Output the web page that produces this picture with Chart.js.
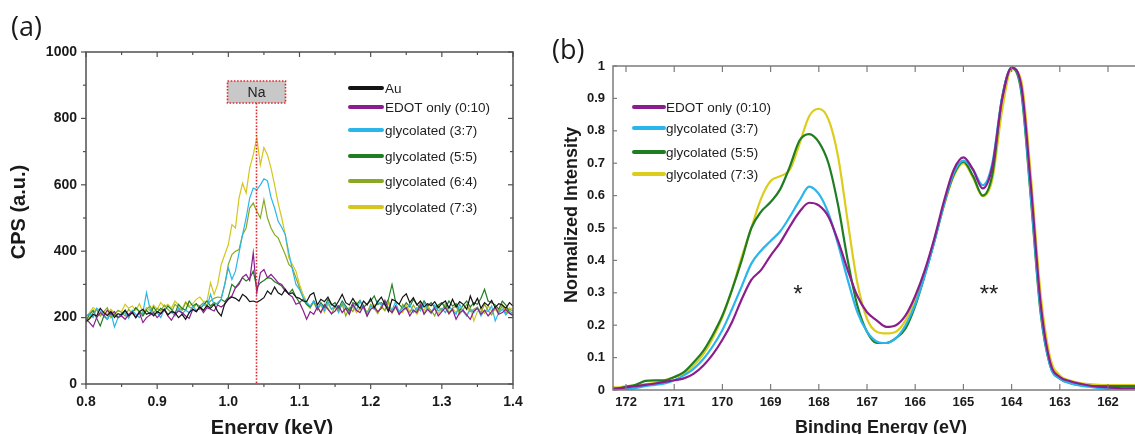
<!DOCTYPE html>
<html><head><meta charset="utf-8">
<script src="https://cdn.jsdelivr.net/npm/chart.js@4/dist/chart.umd.min.js"></script>
<style>
html,body{margin:0;padding:0;background:#fff;}
#wrap{position:relative;width:1135px;height:434px;overflow:hidden;background:#fff;}
#ca{position:absolute;left:0;top:0;}
#cb{position:absolute;left:540px;top:0;}
</style></head><body>
<div id="wrap"><canvas id="ca" width="560" height="434"></canvas><canvas id="cb" width="595" height="434"></canvas></div>
<script>
// ---------------- Panel (a) data ----------------
const energyKeV = [0.800,0.805,0.810,0.815,0.820,0.825,0.830,0.835,0.840,0.845,
0.850,0.855,0.860,0.865,0.870,0.875,0.880,0.885,0.890,0.895,
0.900,0.905,0.910,0.915,0.920,0.925,0.930,0.935,0.940,0.945,
0.950,0.955,0.960,0.965,0.970,0.975,0.980,0.985,0.990,0.995,
1.000,1.005,1.010,1.015,1.020,1.025,1.030,1.035,1.040,1.045,
1.050,1.055,1.060,1.065,1.070,1.075,1.080,1.085,1.090,1.095,
1.100,1.105,1.110,1.115,1.120,1.125,1.130,1.135,1.140,1.145,
1.150,1.155,1.160,1.165,1.170,1.175,1.180,1.185,1.190,1.195,
1.200,1.205,1.210,1.215,1.220,1.225,1.230,1.235,1.240,1.245,
1.250,1.255,1.260,1.265,1.270,1.275,1.280,1.285,1.290,1.295,
1.300,1.305,1.310,1.315,1.320,1.325,1.330,1.335,1.340,1.345,
1.350,1.355,1.360,1.365,1.370,1.375,1.380,1.385,1.390,1.395,
1.400];
const cpsAu = [188,196,210,205,228,215,206,218,200,212,
208,222,205,215,200,218,225,210,215,206,
218,212,225,208,218,215,200,210,195,215,
225,218,232,222,236,228,240,218,205,242,
255,262,258,250,270,262,248,250,246,252,
260,280,270,292,275,268,285,270,275,262,
258,250,248,268,275,238,255,248,262,240,
232,250,270,245,238,258,240,228,250,238,
258,230,248,262,240,218,255,250,240,262,
272,245,260,238,250,232,242,236,248,230,
242,250,228,255,232,248,240,225,265,238,
258,228,245,236,252,230,242,238,228,245,
235];
const cpsEdot = [195,185,172,200,215,205,222,210,218,200,
205,195,210,218,200,215,185,200,208,215,
200,212,225,205,192,210,220,215,205,198,
225,218,232,215,230,225,220,238,232,240,
258,265,290,300,322,330,312,395,275,335,
345,320,330,318,305,300,285,270,262,240,
245,222,195,218,210,232,215,238,225,212,
220,235,215,228,210,240,222,215,235,205,
225,232,218,228,252,225,215,235,210,222,
230,205,222,215,238,210,225,215,228,205,
218,230,212,225,195,215,222,208,195,220,
228,210,222,205,218,232,210,215,225,212,
208];
const cpsGly37 = [205,212,200,228,220,210,195,215,172,200,
208,215,198,222,210,200,215,275,225,205,
215,200,225,210,218,205,228,212,222,215,
235,222,228,240,232,270,238,245,255,300,
350,315,340,395,450,500,560,590,585,600,
618,612,562,530,490,472,450,395,345,300,
285,262,245,235,250,228,240,222,248,225,
238,215,245,230,212,240,222,250,228,205,
235,225,250,238,245,230,222,248,215,232,
225,240,215,230,220,245,225,212,238,220,
228,215,235,222,210,240,218,205,225,215,
230,205,222,218,235,190,215,225,208,220,
212];
const cpsGly55 = [190,210,222,198,175,205,195,215,208,200,
212,222,205,215,230,218,205,222,210,232,
215,228,220,235,225,212,240,228,222,250,
235,242,225,238,250,235,245,240,255,248,
262,300,290,305,320,310,318,340,290,305,
312,320,318,308,302,295,280,272,285,262,
245,255,240,232,250,225,245,230,255,238,
245,228,250,235,220,245,238,252,230,242,
250,265,240,245,238,255,300,248,240,228,
245,232,255,240,228,250,235,245,230,238,
245,228,250,235,242,220,238,250,232,245,
240,258,285,250,245,238,225,250,238,215,
205];
const cpsGly64 = [185,200,215,225,205,218,230,200,210,222,
215,205,225,212,230,218,210,225,235,215,
228,220,238,225,215,240,230,222,245,232,
228,240,235,245,238,250,258,262,260,300,
360,390,400,405,450,470,530,545,520,500,
555,500,470,450,440,415,390,360,350,320,
290,260,240,228,250,232,215,240,228,210,
235,222,240,205,230,218,245,225,235,215,
240,228,212,235,222,250,218,232,210,240,
225,215,238,220,245,212,230,222,205,235,
220,242,215,228,235,210,225,240,218,225,
232,215,240,222,208,230,218,235,212,225,
220];
const cpsGly73 = [200,215,230,222,205,218,210,225,212,220,
218,240,228,235,222,242,215,230,220,238,
225,245,232,240,228,250,238,225,248,235,
242,255,262,248,250,305,270,300,360,390,
420,480,470,560,605,575,650,690,742,660,
712,690,650,600,545,500,450,380,360,340,
300,270,248,232,245,222,238,215,240,225,
230,218,242,225,210,235,215,228,240,205,
225,238,215,232,220,245,212,230,222,215,
238,218,225,210,232,222,240,215,228,212,
225,235,210,228,215,230,220,205,232,190,
218,228,212,235,220,225,210,240,218,230,
225];
const labelsA = ['Au','EDOT only (0:10)','glycolated (3:7)','glycolated (5:5)','glycolated (6:4)','glycolated (7:3)'];
const energyTicks = [0.80,0.85,0.90,0.95,1.00,1.05,1.10,1.15,1.20,1.25,1.30,1.35,1.40];
const energyTickLabels = ['0.8','','0.9','','1.0','','1.1','','1.2','','1.3','','1.4'];
const cpsTicks = [0,100,200,300,400,500,600,700,800,900,1000];
const cpsTickLabels = ['0','','200','','400','','600','','800','','1000'];
const naLineEnergy = 1.039;

// ---------------- Panel (b) data ----------------
const bindingEnergy = [172.4,172.2,172.0,171.8,171.6,171.4,171.2,171.0,170.8,170.6,
170.4,170.2,170.0,169.8,169.6,169.4,169.2,169.0,168.8,168.6,
168.4,168.2,168.0,167.8,167.6,167.4,167.2,167.0,166.8,166.6,
166.4,166.2,166.0,165.8,165.6,165.4,165.2,165.0,164.8,164.6,
164.4,164.2,164.0,163.8,163.6,163.4,163.2,163.0,162.8,162.6,
162.4,162.2,162.0,161.8,161.6,161.4];
const normEdot = [0.002,0.004,0.008,0.012,0.016,0.020,0.025,0.030,0.036,0.050,
0.075,0.110,0.155,0.210,0.280,0.340,0.370,0.415,0.455,0.505,
0.550,0.578,0.570,0.535,0.460,0.370,0.290,0.240,0.215,0.195,
0.200,0.230,0.290,0.370,0.470,0.585,0.680,0.718,0.680,0.622,
0.690,0.895,0.995,0.940,0.630,0.270,0.085,0.040,0.028,0.020,
0.014,0.010,0.008,0.006,0.005,0.005];
const normGly37 = [0.000,0.000,0.002,0.006,0.012,0.016,0.020,0.030,0.045,0.065,
0.095,0.135,0.185,0.250,0.320,0.390,0.430,0.460,0.490,0.535,
0.585,0.628,0.605,0.545,0.450,0.340,0.240,0.180,0.150,0.145,
0.160,0.200,0.265,0.355,0.460,0.575,0.670,0.708,0.680,0.632,
0.700,0.900,0.995,0.930,0.600,0.250,0.075,0.035,0.022,0.014,
0.010,0.006,0.004,0.004,0.005,0.006];
const normGly55 = [0.008,0.004,0.010,0.016,0.028,0.030,0.030,0.040,0.055,0.085,
0.120,0.170,0.230,0.310,0.400,0.500,0.550,0.580,0.620,0.690,
0.770,0.790,0.765,0.700,0.570,0.400,0.260,0.180,0.145,0.145,
0.160,0.190,0.260,0.355,0.460,0.575,0.665,0.705,0.660,0.600,
0.665,0.900,0.995,0.920,0.590,0.240,0.075,0.035,0.022,0.016,
0.013,0.012,0.012,0.012,0.012,0.012];
const normGly73 = [0.015,0.008,0.012,0.014,0.018,0.022,0.030,0.040,0.050,0.075,
0.110,0.160,0.225,0.310,0.410,0.500,0.590,0.645,0.660,0.680,
0.760,0.845,0.868,0.835,0.720,0.520,0.330,0.220,0.180,0.175,
0.180,0.215,0.280,0.365,0.465,0.570,0.660,0.700,0.655,0.598,
0.650,0.860,0.990,0.955,0.660,0.300,0.100,0.045,0.030,0.022,
0.018,0.016,0.015,0.015,0.015,0.015];
const labelsB = ['EDOT only (0:10)','glycolated (3:7)','glycolated (5:5)','glycolated (7:3)'];
const bindingTicks = [172,171,170,169,168,167,166,165,164,163,162];
const bindingTickLabels = ['172','171','170','169','168','167','166','165','164','163','162'];
const intensityTicks = [0,0.1,0.2,0.3,0.4,0.5,0.6,0.7,0.8,0.9,1];
const intensityTickLabels = ['0','0.1','0.2','0.3','0.4','0.5','0.6','0.7','0.8','0.9','1'];

// ---------------- styles ----------------
const SANS = "'Liberation Sans', Arial, sans-serif";
const colorsA = ['#141414','#8b1d8e','#2ab6ea','#1f7d22','#8aa923','#d4c61e'];
const colorsB = ['#8b1d8e','#2ab6ea','#1f7d22','#dccd1c'];

function seg(ctx,x1,y1,x2,y2){ctx.beginPath();ctx.moveTo(x1,y1);ctx.lineTo(x2,y2);ctx.stroke();}

const decoA = {
  id:'decoA',
  afterDatasetsDraw(chart){
    const {ctx, chartArea:a, scales:{x,y}} = chart;
    ctx.save();
    const nx = Math.round(x.getPixelForValue(naLineEnergy))+0.5;
    const bw=58, bh=22, btop=81;
    ctx.fillStyle='#c8c8c8';
    ctx.fillRect(nx-bw/2, btop, bw, bh);
    ctx.strokeStyle='#e0262a'; ctx.lineWidth=1.6; ctx.setLineDash([1.6,1.6]);
    ctx.strokeRect(nx-bw/2, btop, bw, bh);
    seg(ctx,nx,btop+bh,nx,a.bottom);
    ctx.setLineDash([]);
    ctx.fillStyle='#222'; ctx.font='14px '+SANS; ctx.textAlign='center'; ctx.textBaseline='middle';
    ctx.fillText('Na', nx, btop+bh/2+1);
    ctx.restore();
  },
  afterDraw(chart){
    const {ctx, chartArea:a, scales:{x,y}} = chart;
    ctx.save();
    ctx.strokeStyle='#505050'; ctx.lineWidth=1.5;
    ctx.strokeRect(a.left, a.top, a.right-a.left, a.bottom-a.top);
    ctx.lineWidth=1.2;
    energyTicks.forEach((v,i)=>{
      const px=x.getPixelForValue(v); const major=energyTickLabels[i]!=='';
      seg(ctx,px,a.bottom,px,a.bottom+(major?5:3));
      seg(ctx,px,a.top,px,a.top+(major?5:3));
    });
    cpsTicks.forEach((v,i)=>{
      const py=y.getPixelForValue(v); const major=cpsTickLabels[i]!=='';
      seg(ctx,a.left,py,a.left-(major?5:3),py);
      seg(ctx,a.right,py,a.right-(major?5:3),py);
    });
    const rows=[88,107,130,156,181,207];
    chart.data.datasets.forEach((d,i)=>{
      ctx.strokeStyle=d.borderColor; ctx.lineWidth=4; ctx.lineCap='round';
      seg(ctx,350,rows[i],382,rows[i]);
      ctx.fillStyle='#1e1e1e'; ctx.font='13.5px '+SANS; ctx.textAlign='left'; ctx.textBaseline='middle';
      ctx.fillText(d.label, 385, rows[i]+1);
    });
    ctx.fillStyle='#1a1a1a';
    ctx.font='bold 20px '+SANS; ctx.textAlign='center'; ctx.textBaseline='middle';
    ctx.fillText('Energy (keV)', 272, 428);
    ctx.save(); ctx.translate(19, 212); ctx.rotate(-Math.PI/2);
    ctx.fillText('CPS (a.u.)', 0, 0); ctx.restore();
    ctx.font='27px "Open Sans", sans-serif'; ctx.textAlign='left'; ctx.textBaseline='alphabetic';
    ctx.fillText('(a)', 11, 36);
    ctx.restore();
  }
};

const decoB = {
  id:'decoB',
  afterDraw(chart){
    const {ctx, chartArea:a, scales:{x,y}} = chart;
    ctx.save();
    ctx.strokeStyle='#7c7c7c'; ctx.lineWidth=1.5;
    ctx.beginPath(); ctx.moveTo(a.right+2,a.top); ctx.lineTo(a.left,a.top); ctx.lineTo(a.left,a.bottom); ctx.lineTo(a.right+2,a.bottom); ctx.stroke();
    ctx.lineWidth=1.2;
    bindingTicks.forEach(v=>{
      const px=x.getPixelForValue(v);
      seg(ctx,px,a.bottom,px,a.bottom-6);
      seg(ctx,px,a.top,px,a.top+6);
    });
    intensityTicks.forEach(v=>{
      const py=y.getPixelForValue(v);
      seg(ctx,a.left,py,a.left+4,py);
    });
    const rows=[107,128,152,174];
    chart.data.datasets.forEach((d,i)=>{
      ctx.strokeStyle=d.borderColor; ctx.lineWidth=4; ctx.lineCap='round';
      seg(ctx,94,rows[i],124,rows[i]);
      ctx.fillStyle='#1e1e1e'; ctx.font='13.5px '+SANS; ctx.textAlign='left'; ctx.textBaseline='middle';
      ctx.fillText(d.label, 126, rows[i]+1);
    });
    ctx.fillStyle='#222'; ctx.font='24px '+SANS; ctx.textAlign='center'; ctx.textBaseline='alphabetic';
    ctx.fillText('*', 258, 302);
    ctx.fillText('**', 449, 302);
    ctx.fillStyle='#1a1a1a';
    ctx.font='bold 18px '+SANS; ctx.textAlign='center'; ctx.textBaseline='middle';
    ctx.fillText('Binding Energy (eV)', 341, 428);
    ctx.save(); ctx.translate(32, 215); ctx.rotate(-Math.PI/2);
    ctx.fillText('Normalized Intensity', 0, 0); ctx.restore();
    ctx.font='27px "Open Sans", sans-serif'; ctx.textAlign='left'; ctx.textBaseline='alphabetic';
    ctx.fillText('(b)', 12, 59);
    ctx.restore();
  }
};

const tickFontA = {family:SANS, size:14, weight:'bold'};
new Chart(document.getElementById('ca'), {
  type:'line',
  data:{datasets:[cpsAu,cpsEdot,cpsGly37,cpsGly55,cpsGly64,cpsGly73].map((vals,k)=>({
    label:labelsA[k], data:energyKeV.map((e,i)=>({x:e,y:vals[i]})),
    borderColor:colorsA[k], borderWidth:1.2, pointRadius:0, tension:0, fill:false
  }))},
  options:{
    responsive:false, animation:false, events:[],
    layout:{padding:{left:0,top:52,right:47,bottom:0}},
    plugins:{legend:{display:false},tooltip:{enabled:false}},
    scales:{
      x:{type:'linear',min:0.8,max:1.4,
        afterBuildTicks:s=>{s.ticks=energyTicks.map(v=>({value:v}));},
        afterFit:s=>{s.height=50;},
        grid:{display:false,drawTicks:true,tickLength:5},border:{display:false},
        ticks:{font:tickFontA,color:'#1a1a1a',padding:5,maxRotation:0,autoSkip:false,callback:(v,i)=>energyTickLabels[i]}},
      y:{type:'linear',min:0,max:1000,
        afterBuildTicks:s=>{s.ticks=cpsTicks.map(v=>({value:v}));},
        afterFit:s=>{s.width=86;},
        grid:{display:false,drawTicks:true,tickLength:5},border:{display:false},
        ticks:{font:tickFontA,color:'#1a1a1a',padding:4,autoSkip:false,callback:(v,i)=>cpsTickLabels[i]}}
    }
  },
  plugins:[decoA]
});

const tickFontB = {family:SANS, size:13, weight:'bold'};
new Chart(document.getElementById('cb'), {
  type:'line',
  data:{datasets:[normEdot,normGly37,normGly55,normGly73].map((vals,k)=>({
    label:labelsB[k], data:bindingEnergy.map((e,i)=>({x:e,y:vals[i]})),
    borderColor:colorsB[k], borderWidth:2.2, pointRadius:0, cubicInterpolationMode:'monotone', fill:false
  }))},
  options:{
    responsive:false, animation:false, events:[],
    layout:{padding:{left:0,top:66,right:0,bottom:0}},
    plugins:{legend:{display:false},tooltip:{enabled:false}},
    scales:{
      x:{type:'linear',reverse:true,min:161.44,max:172.27,
        afterBuildTicks:s=>{s.ticks=bindingTicks.map(v=>({value:v}));},
        afterFit:s=>{s.height=44;},
        grid:{display:false,drawTicks:false},border:{display:false},
        ticks:{font:tickFontB,color:'#1a1a1a',padding:5,maxRotation:0,autoSkip:false,callback:(v,i)=>bindingTickLabels[i]}},
      y:{type:'linear',min:0,max:1,
        afterBuildTicks:s=>{s.ticks=intensityTicks.map(v=>({value:v}));},
        afterFit:s=>{s.width=73;},
        grid:{display:false,drawTicks:false},border:{display:false},
        ticks:{font:tickFontB,color:'#1a1a1a',padding:8,autoSkip:false,callback:(v,i)=>intensityTickLabels[i]}}
    }
  },
  plugins:[decoB]
});
</script>
</body></html>
